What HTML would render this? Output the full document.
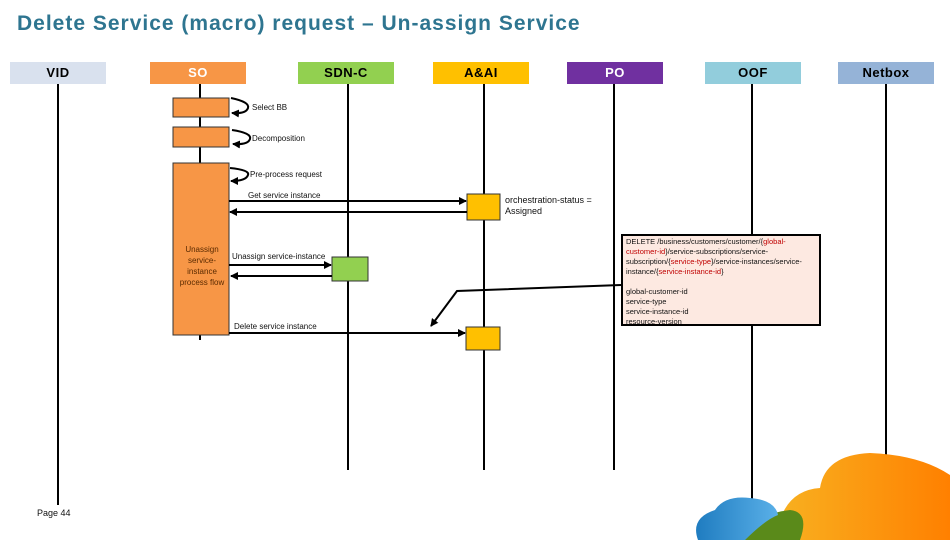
<!DOCTYPE html>
<html><head><style>
body{margin:0;width:950px;height:540px;background:#fff;font-family:"Liberation Sans",sans-serif;position:relative;overflow:hidden}
.a{position:absolute}
.h{position:absolute;top:62px;height:22px;width:96px;font-size:13px;font-weight:bold;text-align:center;line-height:22px;letter-spacing:0.5px}
.t{position:absolute;font-size:8px;color:#111;white-space:nowrap}
</style></head><body>
<div class="a" style="left:17px;top:12px;font-size:21px;font-weight:bold;letter-spacing:1px;color:#2e7590">Delete Service (macro) request – Un-assign Service</div>
<div class="h" style="left:10px;background:#d9e1ee">VID</div>
<div class="h" style="left:150px;background:#f79646;color:#fff">SO</div>
<div class="h" style="left:298px;background:#92d050">SDN-C</div>
<div class="h" style="left:433px;background:#ffc000">A&amp;AI</div>
<div class="h" style="left:567px;background:#7030a0;color:#fff">PO</div>
<div class="h" style="left:705px;background:#92cddc">OOF</div>
<div class="h" style="left:838px;background:#95b3d7">Netbox</div>
<svg class="a" style="left:0;top:0" width="950" height="540">
<defs>
<marker id="m" markerWidth="8" markerHeight="8" refX="7" refY="4" orient="auto" markerUnits="userSpaceOnUse"><path d="M0,0L8,4L0,8z" fill="#000"/></marker>
<linearGradient id="og" x1="0" x2="1"><stop offset="0" stop-color="#f8b020"/><stop offset="1" stop-color="#ff8000"/></linearGradient>
<linearGradient id="bg" x1="0" x2="1"><stop offset="0" stop-color="#1f7cc0"/><stop offset="1" stop-color="#5ab0e8"/></linearGradient>
</defs>
<g stroke="#000" stroke-width="2">
<line x1="58" y1="84" x2="58" y2="505"/>
<line x1="200" y1="84" x2="200" y2="340"/>
<line x1="348" y1="84" x2="348" y2="470"/>
<line x1="484" y1="84" x2="484" y2="470"/>
<line x1="614" y1="84" x2="614" y2="470"/>
<line x1="752" y1="84" x2="752" y2="505"/>
<line x1="886" y1="84" x2="886" y2="472"/>
</g>
<path d="M780,540 L780,520 Q790,490 820,488 Q825,455 870,453 Q920,455 950,475 L950,540Z" fill="url(#og)"/>
<path d="M745,540 Q750,515 790,510 Q810,512 800,540Z" fill="#5a8a1a"/>
<path d="M698,540 Q690,518 715,510 Q725,495 750,498 Q775,500 778,515 Q765,520 745,540Z" fill="url(#bg)"/>
<g fill="#f79646" stroke="#333" stroke-width="1">
<rect x="173" y="98" width="56" height="19"/>
<rect x="173" y="127" width="56" height="20"/>
<rect x="173" y="163" width="56" height="172"/>
</g>
<rect x="467" y="194" width="33" height="26" fill="#ffc000" stroke="#333"/>
<rect x="466" y="327" width="34" height="23" fill="#ffc000" stroke="#333"/>
<rect x="332" y="257" width="36" height="24" fill="#92d050" stroke="#333"/>
<rect x="622" y="235" width="198" height="90" fill="#fde9e1" stroke="#000" stroke-width="2"/>
<g stroke="#000" stroke-width="2" fill="none">
<path d="M231,98 Q250,102 248,108 Q246,114 232,113" marker-end="url(#m)"/>
<path d="M232,130 Q252,133 250,139 Q248,145 233,144" marker-end="url(#m)"/>
<path d="M230,168 Q250,170 248,175 Q246,181 231,181" marker-end="url(#m)"/>
<line x1="229" y1="201" x2="466" y2="201" marker-end="url(#m)"/>
<line x1="467" y1="212" x2="230" y2="212" marker-end="url(#m)"/>
<line x1="229" y1="265" x2="331" y2="265" marker-end="url(#m)"/>
<line x1="332" y1="276" x2="231" y2="276" marker-end="url(#m)"/>
<line x1="229" y1="333" x2="465" y2="333" marker-end="url(#m)"/>
<polyline points="621,285 457,291 431,326" marker-end="url(#m)"/>
</g>
</svg>
<div class="t" style="left:252px;top:103px">Select BB</div>
<div class="t" style="left:252px;top:134px">Decomposition</div>
<div class="t" style="left:250px;top:170px">Pre-process request</div>
<div class="t" style="left:248px;top:191px">Get service instance</div>
<div class="t" style="left:232px;top:252px">Unassign service-instance</div>
<div class="t" style="left:234px;top:322px">Delete service instance</div>
<div class="t" style="left:174px;top:244px;width:56px;text-align:center;white-space:normal;line-height:11px;color:#5a2a00">Unassign service-instance process flow</div>
<div class="t" style="left:505px;top:195px;font-size:9px;line-height:11px">orchestration-status =<br>Assigned</div>
<div class="t" style="left:626px;top:237px;font-size:7.5px;line-height:10px;white-space:normal;width:192px">DELETE /business/customers/customer/{<span style="color:#c00000">global-customer-id</span>}/service-subscriptions/service-subscription/{<span style="color:#c00000">service-type</span>}/service-instances/service-instance/{<span style="color:#c00000">service-instance-id</span>}<br><br>global-customer-id<br>service-type<br>service-instance-id<br>resource-version</div>
<div class="t" style="left:37px;top:508px;font-size:9px">Page 44</div>
</body></html>
